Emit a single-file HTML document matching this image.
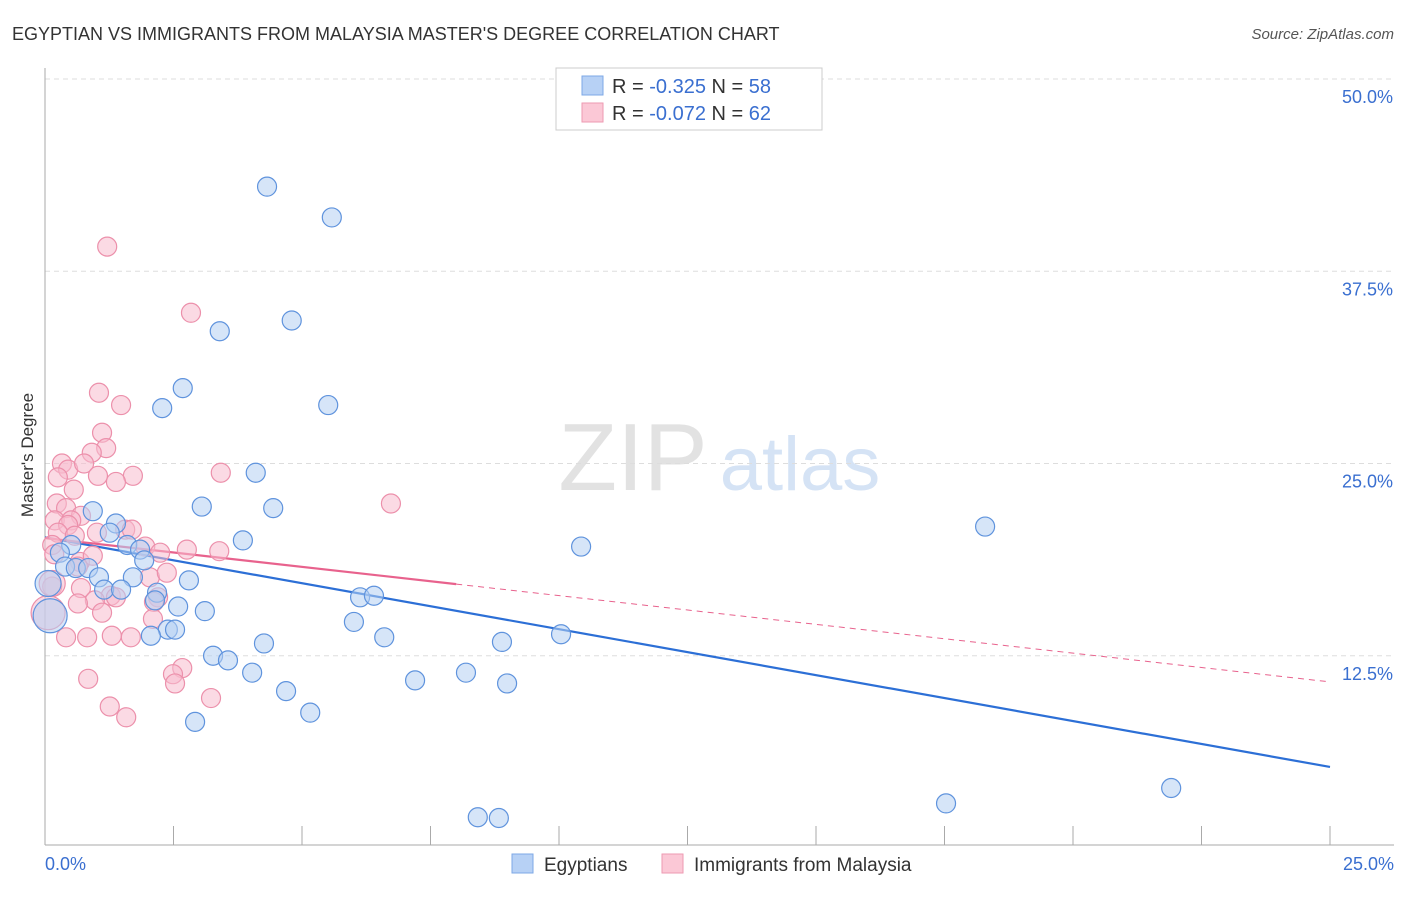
<!DOCTYPE html>
<html><head><meta charset="utf-8"><style>
body{margin:0;background:#fff;font-family:"Liberation Sans",sans-serif;}
svg text{font-family:"Liberation Sans",sans-serif;}
</style></head><body>
<svg id="chart" width="1406" height="892" xmlns="http://www.w3.org/2000/svg">
<text x="12" y="40" font-size="18" fill="#333">EGYPTIAN VS IMMIGRANTS FROM MALAYSIA MASTER'S DEGREE CORRELATION CHART</text>
<text x="1394" y="39" font-size="15" fill="#555" text-anchor="end" font-style="italic">Source: ZipAtlas.com</text>
<text transform="translate(33,455) rotate(-90)" font-size="17" fill="#333" text-anchor="middle">Master's Degree</text>
<g><text x="633" y="490" font-size="96" fill="#e2e2e2" text-anchor="middle" font-family="Liberation Serif,serif">ZIP</text><text x="800" y="490" font-size="76" fill="#d5e3f5" text-anchor="middle">atlas</text></g>
<g id="grid"></g><g id="axes"></g><g id="trend"></g><g id="pts"></g>
<g>
<rect x="556" y="68" width="266" height="62" fill="#fff" stroke="#ccc"/>
<rect x="582" y="76" width="21" height="19" fill="#b7d1f5" stroke="#7ea8e6"/>
<rect x="582" y="103" width="21" height="19" fill="#fbc8d6" stroke="#ee9ab2"/>
<text x="612" y="93" font-size="20" fill="#333">R = <tspan fill="#3a6fd0">-0.325</tspan>   N = <tspan fill="#3a6fd0">58</tspan></text>
<text x="612" y="120" font-size="20" fill="#333">R = <tspan fill="#3a6fd0">-0.072</tspan>   N = <tspan fill="#3a6fd0">62</tspan></text>
</g>
<g>
<rect x="512" y="854" width="21" height="19" fill="#b7d1f5" stroke="#7ea8e6"/>
<text x="544" y="871" font-size="19" fill="#333">Egyptians</text>
<rect x="662" y="854" width="21" height="19" fill="#fbc8d6" stroke="#ee9ab2"/>
<text x="694" y="871" font-size="19" fill="#333">Immigrants from Malaysia</text>
</g>
</svg>
<script>
const blueX=[4.32,5.58,3.40,4.80,2.68,2.28,5.51,4.10,3.05,4.44,0.93,1.38,3.85,1.26,1.60,1.85,0.51,0.29,1.93,0.39,0.60,0.84,1.05,1.71,2.80,1.15,1.48,2.18,0.06,0.10,2.59,3.11,6.13,6.40,2.14,2.39,2.53,2.06,6.01,6.60,4.26,3.27,3.56,4.03,4.69,7.20,8.19,8.89,8.99,10.04,10.43,18.29,2.92,5.16,8.42,8.83,17.53,21.91];
const blueY=[43.0,41.0,33.6,34.3,29.9,28.6,28.8,24.4,22.2,22.1,21.9,21.1,20.0,20.5,19.7,19.4,19.7,19.2,18.7,18.3,18.2,18.2,17.6,17.6,17.4,16.8,16.8,16.6,17.2,15.1,15.7,15.4,16.3,16.4,16.1,14.2,14.2,13.8,14.7,13.7,13.3,12.5,12.2,11.4,10.2,10.9,11.4,13.4,10.7,13.9,19.6,20.9,8.2,8.8,2.0,1.95,2.9,3.9];
const pinkX=[1.21,2.84,1.05,1.48,1.11,1.19,0.91,0.33,0.45,0.76,1.71,1.03,1.38,0.25,0.56,3.42,6.73,0.23,0.41,0.70,0.19,0.51,0.45,1.01,1.56,1.69,0.25,0.58,0.14,1.95,2.24,2.76,3.39,0.18,0.68,0.93,0.64,2.04,2.37,0.14,0.70,1.28,2.20,2.12,0.97,0.64,1.38,1.11,2.10,0.41,0.82,1.30,1.67,2.67,2.49,2.53,0.84,3.23,1.26,1.58,0.06,0.14];
const pinkY=[39.1,34.8,29.6,28.8,27.0,26.0,25.7,25.0,24.6,25.0,24.2,24.2,23.8,24.1,23.3,24.4,22.4,22.4,22.1,21.6,21.3,21.3,21.0,20.5,20.7,20.7,20.5,20.3,19.7,19.6,19.2,19.4,19.3,19.1,18.6,19.0,18.3,17.6,17.9,17.0,16.9,16.4,16.3,16.0,16.1,15.9,16.3,15.3,14.9,13.7,13.7,13.8,13.7,11.7,11.3,10.7,11.0,9.75,9.2,8.5,15.3,17.2];
const blueTrend=[20.2,5.27];
const pinkTrend=[20.15,10.8];
const pinkSolidEnd=8.0;
const yTicks=[12.5,25,37.5,50];
const NS="http://www.w3.org/2000/svg";
const X=v=>45+v/25*1285, Y=v=>848-v/50*769;
function mk(t,a,p){const e=document.createElementNS(NS,t);for(const k in a)e.setAttribute(k,a[k]);p.appendChild(e);return e;}
const grid=document.getElementById('grid'),axes=document.getElementById('axes');
yTicks.forEach(t=>{
 const l=mk('line',{x1:45,x2:1394,y1:Y(t),y2:Y(t),stroke:'#ddd','stroke-dasharray':'5,4'},grid);
 
 
 const tx=mk('text',{x:1393,y:Y(t)+24,'font-size':18,fill:'#3a6fd0','text-anchor':'end'},axes);
 tx.textContent=t.toFixed(1)+'%';
 
 
});
mk('line',{x1:45,x2:45,y1:68,y2:845,stroke:'#aaa'},axes);
mk('line',{x1:45,x2:1394,y1:845,y2:845,stroke:'#aaa'},axes);
for(let i=1;i<=10;i++){const x=X(i*2.5);mk('line',{x1:x,x2:x,y1:826,y2:845,stroke:'#aaa'},axes);}
const x0=mk('text',{x:45,y:870,'font-size':18,fill:'#3a6fd0'},axes);x0.textContent='0.0%';


const x1=mk('text',{x:1394,y:870,'font-size':18,fill:'#3a6fd0','text-anchor':'end'},axes);x1.textContent='25.0%';


const pts=document.getElementById('pts');
function dot(x,y,fill,stroke,name){
 const big=x<0.2&&(y<15.5&&y>14.8||y>17.1&&y<17.3);
 const c=mk('circle',{cx:X(x),cy:Y(y),r:big?(y<16?17:13):9.5,fill:fill,'fill-opacity':0.55,stroke:stroke,'stroke-width':1.2},pts);
 
 
}
pinkX.forEach((x,i)=>dot(x,pinkY[i],'#f8bccd','#ec90ab','malaysia-point'));
blueX.forEach((x,i)=>dot(x,blueY[i],'#b5cff2','#5f93dd','egyptian-point'));
const tr=document.getElementById('trend');
const b=mk('line',{x1:X(0),y1:Y(blueTrend[0]),x2:X(25),y2:Y(blueTrend[1]),stroke:'#2c6fd6','stroke-width':2.2},tr);


const py=x=>pinkTrend[0]+(pinkTrend[1]-pinkTrend[0])*x/25;
const p1=mk('line',{x1:X(0),y1:Y(py(0)),x2:X(pinkSolidEnd),y2:Y(py(pinkSolidEnd)),stroke:'#e8628d','stroke-width':2.2},tr);


const p2=mk('line',{x1:X(pinkSolidEnd),y1:Y(py(pinkSolidEnd)),x2:X(25),y2:Y(py(25)),stroke:'#e8628d','stroke-width':1,'stroke-dasharray':'6,5'},tr);


</script>
</body></html>
